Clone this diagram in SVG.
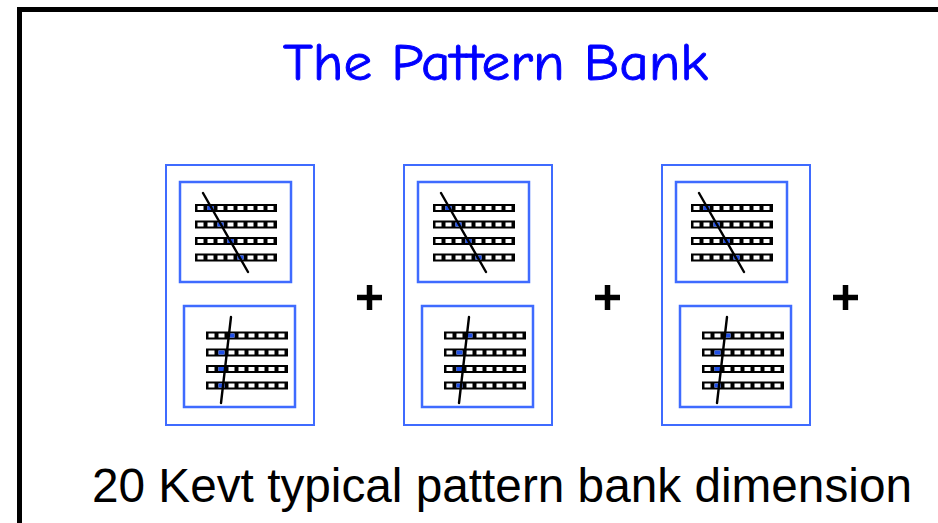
<svg xmlns="http://www.w3.org/2000/svg" width="938" height="523" viewBox="0 0 938 523">
  <style>
    .outer { fill: none; stroke: #3f6bff; stroke-width: 2; }
    .inner { fill: none; stroke: #3f6bff; stroke-width: 2.5; }
    .track { stroke: #000; stroke-width: 2.4; stroke-linecap: round; }
    .hit { fill: #2050e8; }
    .plus { stroke: #000; stroke-width: 5.5; }
    .title { font-family: "Comic Sans MS", "Comic Neue", "DejaVu Sans", sans-serif; font-size: 52px; fill: #0000ff; stroke: #0000ff; stroke-width: 0.9; }
    .caption { font-family: "Liberation Sans", Arial, sans-serif; font-size: 48px; fill: #000; }
  </style>
  <defs>
    <g id="strip">
      <rect x="0" y="0" width="82" height="8" fill="#000"/>
      <rect x="2.5" y="2" width="6" height="4" fill="#fff"/>
      <rect x="12.5" y="2" width="6" height="4" fill="#fff"/>
      <rect x="22.5" y="2" width="6" height="4" fill="#fff"/>
      <rect x="32.5" y="2" width="6" height="4" fill="#fff"/>
      <rect x="42.5" y="2" width="6" height="4" fill="#fff"/>
      <rect x="52.5" y="2" width="6" height="4" fill="#fff"/>
      <rect x="62.5" y="2" width="6" height="4" fill="#fff"/>
      <rect x="72.5" y="2" width="6" height="4" fill="#fff"/>
    </g>
    <g id="column">
      <rect class="outer" x="166" y="165" width="148" height="260"/>
      <rect class="inner" x="180" y="182" width="111" height="100"/>
      <use href="#strip" x="195" y="204"/>
      <use href="#strip" x="195" y="220.5"/>
      <use href="#strip" x="195" y="237"/>
      <use href="#strip" x="195" y="253.5"/>
      <rect class="hit" x="207.5" y="206" width="6" height="4"/>
      <rect class="hit" x="217.5" y="222.5" width="6" height="4"/>
      <rect class="hit" x="227.5" y="239" width="6" height="4"/>
      <rect class="hit" x="237.5" y="255.5" width="6" height="4"/>
      <line class="track" x1="203" y1="193" x2="248" y2="272"/>
      <rect class="inner" x="184" y="306" width="111" height="101"/>
      <use href="#strip" x="206" y="331.5"/>
      <use href="#strip" x="206" y="348.5"/>
      <use href="#strip" x="206" y="365"/>
      <use href="#strip" x="206" y="381.5"/>
      <rect class="hit" x="228.5" y="333.5" width="6" height="4"/>
      <rect class="hit" x="218.5" y="350.5" width="6" height="4"/>
      <rect class="hit" x="218.5" y="367" width="6" height="4"/>
      <rect class="hit" x="218.5" y="383.5" width="6" height="4"/>
      <line class="track" x1="231" y1="317" x2="221" y2="403"/>
    </g>
    <path id="plusSign" class="plus" d="M357,297.5 H382 M369.5,285 V310"/>
  </defs>

  <g id="frame">
    <path d="M19.5,523 V9.5 H938" fill="none" stroke="#000" stroke-width="5"/>
  </g>

  <g id="title">
    <text class="title" x="495.5" y="80" text-anchor="middle" textLength="425" lengthAdjust="spacingAndGlyphs">The Pattern Bank</text>
  </g>

  <g id="bank1"><use href="#column"/></g>
  <g id="bank2"><use href="#column" x="238"/></g>
  <g id="bank3"><use href="#column" x="496"/></g>

  <g id="connectors">
    <use href="#plusSign"/>
    <use href="#plusSign" x="238"/>
    <use href="#plusSign" x="476"/>
  </g>

  <g id="caption">
    <text class="caption" x="92" y="502" textLength="820" lengthAdjust="spacingAndGlyphs">20 Kevt typical pattern bank dimension</text>
  </g>
</svg>
